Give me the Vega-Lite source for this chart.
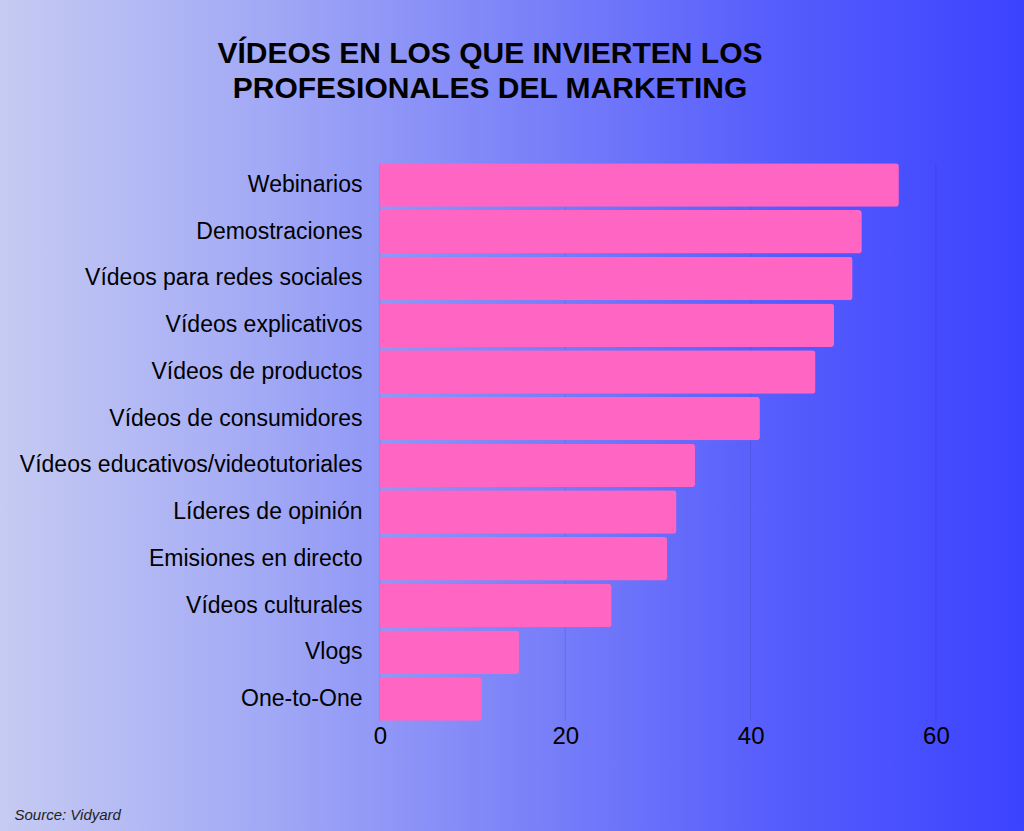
{
  "$schema": "https://vega.github.io/schema/vega-lite/v6.json",
  "width": 1024,
  "height": 831,
  "padding": 0,
  "autosize": {"type": "none"},
  "background": "#ffffff",
  "config": {
    "font": "Liberation Sans",
    "view": {
      "stroke": null,
      "fill": {
        "gradient": "linear",
        "x1": 0, "y1": 0, "x2": 1, "y2": 0,
        "stops": [
          {"offset": 0, "color": "#c6cbf2"},
          {"offset": 0.25, "color": "#a3aaf5"},
          {"offset": 0.5, "color": "#7d84f8"},
          {"offset": 0.75, "color": "#575efc"},
          {"offset": 1, "color": "#3c43ff"}
        ]
      }
    }
  },
  "title": {
    "text": ["VÍDEOS EN LOS QUE INVIERTEN LOS", "PROFESIONALES DEL MARKETING"],
    "font": "Liberation Sans",
    "fontSize": 30,
    "fontWeight": "bold",
    "color": "#000000",
    "anchor": "middle",
    "frame": "group",
    "dx": -22,
    "lineHeight": 35,
    "baseline": "alphabetic",
    "offset": -128
  },
  "layer": [
    {
      "data": {"values": [{"g": 0}, {"g": 20}, {"g": 40}, {"g": 60}]},
      "mark": {"type": "rule", "stroke": "#000000", "strokeOpacity": 0.1, "strokeWidth": 1},
      "encoding": {
        "x": {
          "field": "g",
          "type": "quantitative",
          "scale": {"domain": [-41.0, 69.5], "nice": false, "zero": false},
          "axis": {
            "orient": "bottom",
            "offset": -110,
            "values": [0, 20, 40, 60],
            "domain": false,
            "ticks": false,
            "grid": false,
            "labelPadding": 3,
            "labelFont": "Liberation Sans",
            "labelFontSize": 24,
            "labelColor": "#000000",
            "title": "Source: Vidyard",
            "titleFont": "Liberation Sans",
            "titleFontSize": 15,
            "titleFontStyle": "italic",
            "titleFontWeight": "normal",
            "titleColor": "#222222",
            "titleX": 14,
            "titleY": 98,
            "titleAlign": "left",
            "titleAnchor": "start",
            "titleBaseline": "alphabetic"
          }
        },
        "y": {
          "datum": "Webinarios",
          "type": "nominal",
          "bandPosition": 0,
          "scale": {
            "domain": ["Webinarios", "Demostraciones", "Vídeos para redes sociales", "Vídeos explicativos", "Vídeos de productos", "Vídeos de consumidores", "Vídeos educativos/videotutoriales", "Líderes de opinión", "Emisiones en directo", "Vídeos culturales", "Vlogs", "One-to-One"],
            "range": [163.3, 720.7],
            "paddingInner": 0.07, "paddingOuter": 0
          },
          "axis": {
            "title": null,
            "orient": "left",
            "offset": -378,
            "domain": false,
            "ticks": false,
            "grid": false,
            "labelPadding": 16,
            "labelFont": "Liberation Sans",
            "labelFontSize": 23,
            "labelColor": "#000000",
            "labelLimit": 600
          }
        },
        "y2": {"datum": "One-to-One", "bandPosition": 1}
      }
    },
    {
      "data": {
        "values": [
          {"tipo": "Webinarios", "pct": 56},
          {"tipo": "Demostraciones", "pct": 52},
          {"tipo": "Vídeos para redes sociales", "pct": 51},
          {"tipo": "Vídeos explicativos", "pct": 49},
          {"tipo": "Vídeos de productos", "pct": 47},
          {"tipo": "Vídeos de consumidores", "pct": 41},
          {"tipo": "Vídeos educativos/videotutoriales", "pct": 34},
          {"tipo": "Líderes de opinión", "pct": 32},
          {"tipo": "Emisiones en directo", "pct": 31},
          {"tipo": "Vídeos culturales", "pct": 25},
          {"tipo": "Vlogs", "pct": 15},
          {"tipo": "One-to-One", "pct": 11}
        ]
      },
      "mark": {"type": "bar", "color": "#ff66c4", "cornerRadiusEnd": 3},
      "encoding": {
        "y": {
          "field": "tipo",
          "type": "nominal",
          "sort": null,
          "scale": {
            "domain": ["Webinarios", "Demostraciones", "Vídeos para redes sociales", "Vídeos explicativos", "Vídeos de productos", "Vídeos de consumidores", "Vídeos educativos/videotutoriales", "Líderes de opinión", "Emisiones en directo", "Vídeos culturales", "Vlogs", "One-to-One"],
            "range": [163.3, 720.7],
            "paddingInner": 0.07, "paddingOuter": 0
          },
          "axis": {
            "title": null,
            "orient": "left",
            "offset": -378,
            "domain": false,
            "ticks": false,
            "grid": false,
            "labelPadding": 16,
            "labelFont": "Liberation Sans",
            "labelFontSize": 23,
            "labelColor": "#000000",
            "labelLimit": 600
          }
        },
        "x": {
          "field": "pct",
          "type": "quantitative",
          "scale": {"domain": [-41.0, 69.5], "nice": false, "zero": false},
          "axis": {
            "orient": "bottom",
            "offset": -110,
            "values": [0, 20, 40, 60],
            "domain": false,
            "ticks": false,
            "grid": false,
            "labelPadding": 3,
            "labelFont": "Liberation Sans",
            "labelFontSize": 24,
            "labelColor": "#000000",
            "title": "Source: Vidyard",
            "titleFont": "Liberation Sans",
            "titleFontSize": 15,
            "titleFontStyle": "italic",
            "titleFontWeight": "normal",
            "titleColor": "#222222",
            "titleX": 14,
            "titleY": 98,
            "titleAlign": "left",
            "titleAnchor": "start",
            "titleBaseline": "alphabetic"
          }
        }
      }
    }
  ]
}
